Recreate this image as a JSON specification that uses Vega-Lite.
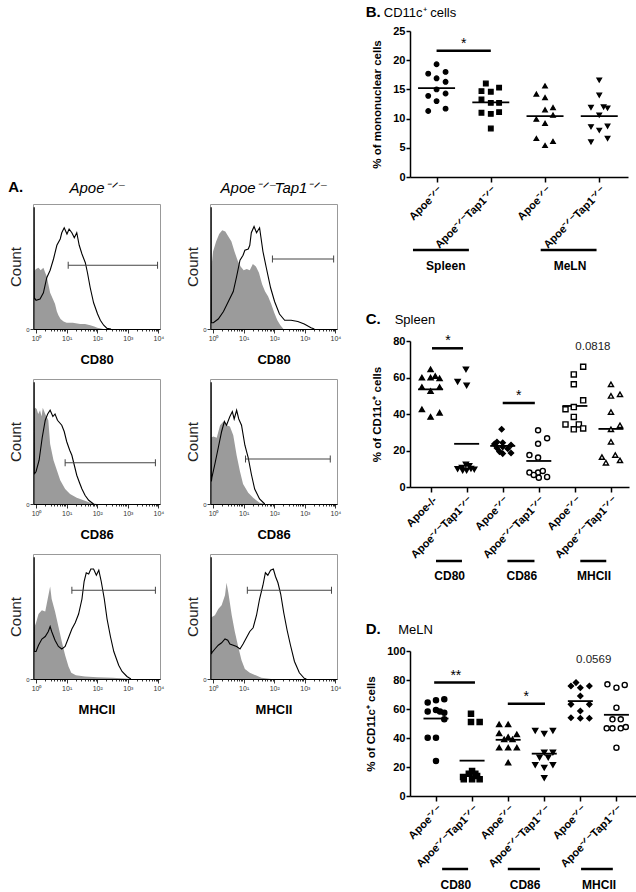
{
"$schema": "https://vega.github.io/schema/vega-lite/v6.json",
"padding": {"left": 8, "top": 5, "right": 0, "bottom": 0},
"config": {
  "font": "Liberation Sans",
  "view": {"stroke": null},
  "axis": {"labelFont": "Liberation Sans", "titleFont": "Liberation Sans", "domainColor": "black", "tickColor": "black", "labelColor": "black", "titleColor": "black", "grid": false, "labelOverlap": false},
  "title": {"font": "Liberation Sans", "color": "black", "subtitleFont": "Liberation Sans", "subtitleColor": "black"}
},
"datasets": {
  "hist": [
    {"h":"h1","s":"c","x":-0.08,"c":46},{"h":"h1","s":"c","x":0,"c":48},{"h":"h1","s":"c","x":0.08,"c":49},{"h":"h1","s":"c","x":0.15,"c":47},{"h":"h1","s":"c","x":0.24,"c":49},{"h":"h1","s":"c","x":0.3,"c":45},{"h":"h1","s":"c","x":0.35,"c":42},{"h":"h1","s":"c","x":0.4,"c":36},{"h":"h1","s":"c","x":0.46,"c":29},{"h":"h1","s":"c","x":0.55,"c":24},{"h":"h1","s":"c","x":0.62,"c":20},{"h":"h1","s":"c","x":0.68,"c":14},{"h":"h1","s":"c","x":0.73,"c":11},{"h":"h1","s":"c","x":0.8,"c":8},{"h":"h1","s":"c","x":0.9,"c":6},{"h":"h1","s":"c","x":1,"c":5},{"h":"h1","s":"c","x":1.2,"c":5},{"h":"h1","s":"c","x":1.44,"c":4},{"h":"h1","s":"c","x":1.6,"c":4},{"h":"h1","s":"c","x":1.77,"c":3},{"h":"h1","s":"c","x":1.9,"c":2},{"h":"h1","s":"c","x":2,"c":1},{"h":"h1","s":"c","x":2.2,"c":0},
    {"h":"h1","s":"s","x":-0.07,"c":0},{"h":"h1","s":"s","x":-0.065,"c":97},{"h":"h1","s":"s","x":-0.06,"c":97},{"h":"h1","s":"s","x":-0.055,"c":25},{"h":"h1","s":"s","x":0,"c":23},{"h":"h1","s":"s","x":0.13,"c":24},{"h":"h1","s":"s","x":0.24,"c":29},{"h":"h1","s":"s","x":0.35,"c":41},{"h":"h1","s":"s","x":0.46,"c":47},{"h":"h1","s":"s","x":0.57,"c":56},{"h":"h1","s":"s","x":0.68,"c":67},{"h":"h1","s":"s","x":0.79,"c":72},{"h":"h1","s":"s","x":0.84,"c":77},{"h":"h1","s":"s","x":0.92,"c":81},{"h":"h1","s":"s","x":1.01,"c":76},{"h":"h1","s":"s","x":1.08,"c":80},{"h":"h1","s":"s","x":1.17,"c":77},{"h":"h1","s":"s","x":1.25,"c":73},{"h":"h1","s":"s","x":1.33,"c":77},{"h":"h1","s":"s","x":1.41,"c":67},{"h":"h1","s":"s","x":1.5,"c":60},{"h":"h1","s":"s","x":1.61,"c":53},{"h":"h1","s":"s","x":1.68,"c":45},{"h":"h1","s":"s","x":1.77,"c":33},{"h":"h1","s":"s","x":1.88,"c":21},{"h":"h1","s":"s","x":2.01,"c":12},{"h":"h1","s":"s","x":2.1,"c":7},{"h":"h1","s":"s","x":2.21,"c":3},{"h":"h1","s":"s","x":2.32,"c":0.5},{"h":"h1","s":"s","x":2.45,"c":0},
    {"h":"h2","s":"c","x":-0.08,"c":5},{"h":"h2","s":"c","x":-0.05,"c":50},{"h":"h2","s":"c","x":0,"c":62},{"h":"h2","s":"c","x":0.1,"c":70},{"h":"h2","s":"c","x":0.2,"c":76},{"h":"h2","s":"c","x":0.3,"c":79},{"h":"h2","s":"c","x":0.4,"c":78},{"h":"h2","s":"c","x":0.5,"c":74},{"h":"h2","s":"c","x":0.6,"c":70},{"h":"h2","s":"c","x":0.7,"c":62},{"h":"h2","s":"c","x":0.8,"c":55},{"h":"h2","s":"c","x":0.9,"c":50},{"h":"h2","s":"c","x":1,"c":47},{"h":"h2","s":"c","x":1.1,"c":48},{"h":"h2","s":"c","x":1.2,"c":47},{"h":"h2","s":"c","x":1.3,"c":52},{"h":"h2","s":"c","x":1.4,"c":50},{"h":"h2","s":"c","x":1.5,"c":45},{"h":"h2","s":"c","x":1.6,"c":36},{"h":"h2","s":"c","x":1.7,"c":30},{"h":"h2","s":"c","x":1.8,"c":26},{"h":"h2","s":"c","x":1.9,"c":20},{"h":"h2","s":"c","x":2,"c":13},{"h":"h2","s":"c","x":2.1,"c":7},{"h":"h2","s":"c","x":2.2,"c":3},{"h":"h2","s":"c","x":2.3,"c":0},
    {"h":"h2","s":"s","x":-0.07,"c":0},{"h":"h2","s":"s","x":-0.065,"c":97},{"h":"h2","s":"s","x":-0.06,"c":97},{"h":"h2","s":"s","x":-0.055,"c":5},{"h":"h2","s":"s","x":0.01,"c":5},{"h":"h2","s":"s","x":0.17,"c":8},{"h":"h2","s":"s","x":0.34,"c":14},{"h":"h2","s":"s","x":0.5,"c":22},{"h":"h2","s":"s","x":0.66,"c":30},{"h":"h2","s":"s","x":0.77,"c":42},{"h":"h2","s":"s","x":0.88,"c":55},{"h":"h2","s":"s","x":0.98,"c":59},{"h":"h2","s":"s","x":1.04,"c":63},{"h":"h2","s":"s","x":1.15,"c":64},{"h":"h2","s":"s","x":1.2,"c":67},{"h":"h2","s":"s","x":1.25,"c":77},{"h":"h2","s":"s","x":1.34,"c":82},{"h":"h2","s":"s","x":1.42,"c":77},{"h":"h2","s":"s","x":1.52,"c":81},{"h":"h2","s":"s","x":1.63,"c":62},{"h":"h2","s":"s","x":1.74,"c":49},{"h":"h2","s":"s","x":1.88,"c":33},{"h":"h2","s":"s","x":2.01,"c":22},{"h":"h2","s":"s","x":2.17,"c":12},{"h":"h2","s":"s","x":2.34,"c":7},{"h":"h2","s":"s","x":2.55,"c":7},{"h":"h2","s":"s","x":2.77,"c":6},{"h":"h2","s":"s","x":2.98,"c":4},{"h":"h2","s":"s","x":3.2,"c":1},{"h":"h2","s":"s","x":3.31,"c":0},
    {"h":"h3","s":"c","x":-0.08,"c":75},{"h":"h3","s":"c","x":-0.03,"c":77},{"h":"h3","s":"c","x":0.02,"c":76},{"h":"h3","s":"c","x":0.07,"c":72},{"h":"h3","s":"c","x":0.13,"c":75},{"h":"h3","s":"c","x":0.18,"c":70},{"h":"h3","s":"c","x":0.22,"c":77},{"h":"h3","s":"c","x":0.3,"c":72},{"h":"h3","s":"c","x":0.4,"c":67},{"h":"h3","s":"c","x":0.46,"c":48},{"h":"h3","s":"c","x":0.57,"c":35},{"h":"h3","s":"c","x":0.68,"c":27},{"h":"h3","s":"c","x":0.79,"c":19},{"h":"h3","s":"c","x":0.95,"c":12},{"h":"h3","s":"c","x":1.11,"c":8},{"h":"h3","s":"c","x":1.33,"c":5},{"h":"h3","s":"c","x":1.55,"c":3},{"h":"h3","s":"c","x":1.77,"c":1},{"h":"h3","s":"c","x":1.99,"c":0},
    {"h":"h3","s":"s","x":-0.07,"c":0},{"h":"h3","s":"s","x":-0.065,"c":97},{"h":"h3","s":"s","x":-0.06,"c":97},{"h":"h3","s":"s","x":-0.055,"c":24},{"h":"h3","s":"s","x":0,"c":26},{"h":"h3","s":"s","x":0.1,"c":35},{"h":"h3","s":"s","x":0.2,"c":53},{"h":"h3","s":"s","x":0.3,"c":67},{"h":"h3","s":"s","x":0.38,"c":72},{"h":"h3","s":"s","x":0.46,"c":75},{"h":"h3","s":"s","x":0.55,"c":70},{"h":"h3","s":"s","x":0.62,"c":72},{"h":"h3","s":"s","x":0.7,"c":67},{"h":"h3","s":"s","x":0.84,"c":63},{"h":"h3","s":"s","x":0.92,"c":58},{"h":"h3","s":"s","x":1,"c":50},{"h":"h3","s":"s","x":1.1,"c":43},{"h":"h3","s":"s","x":1.17,"c":39},{"h":"h3","s":"s","x":1.25,"c":31},{"h":"h3","s":"s","x":1.33,"c":23},{"h":"h3","s":"s","x":1.42,"c":17},{"h":"h3","s":"s","x":1.5,"c":12},{"h":"h3","s":"s","x":1.6,"c":7},{"h":"h3","s":"s","x":1.72,"c":3},{"h":"h3","s":"s","x":1.88,"c":0},
    {"h":"h4","s":"c","x":-0.08,"c":53},{"h":"h4","s":"c","x":0.01,"c":54},{"h":"h4","s":"c","x":0.12,"c":53},{"h":"h4","s":"c","x":0.23,"c":63},{"h":"h4","s":"c","x":0.34,"c":66},{"h":"h4","s":"c","x":0.44,"c":63},{"h":"h4","s":"c","x":0.55,"c":62},{"h":"h4","s":"c","x":0.66,"c":55},{"h":"h4","s":"c","x":0.77,"c":39},{"h":"h4","s":"c","x":0.88,"c":26},{"h":"h4","s":"c","x":0.98,"c":16},{"h":"h4","s":"c","x":1.15,"c":9},{"h":"h4","s":"c","x":1.31,"c":5},{"h":"h4","s":"c","x":1.52,"c":1},{"h":"h4","s":"c","x":1.7,"c":0},
    {"h":"h4","s":"s","x":-0.07,"c":0},{"h":"h4","s":"s","x":-0.065,"c":97},{"h":"h4","s":"s","x":-0.06,"c":97},{"h":"h4","s":"s","x":-0.055,"c":18},{"h":"h4","s":"s","x":-0.04,"c":21},{"h":"h4","s":"s","x":0.06,"c":32},{"h":"h4","s":"s","x":0.17,"c":45},{"h":"h4","s":"s","x":0.28,"c":58},{"h":"h4","s":"s","x":0.37,"c":66},{"h":"h4","s":"s","x":0.44,"c":63},{"h":"h4","s":"s","x":0.55,"c":70},{"h":"h4","s":"s","x":0.63,"c":74},{"h":"h4","s":"s","x":0.69,"c":68},{"h":"h4","s":"s","x":0.77,"c":75},{"h":"h4","s":"s","x":0.84,"c":68},{"h":"h4","s":"s","x":0.93,"c":63},{"h":"h4","s":"s","x":1.04,"c":47},{"h":"h4","s":"s","x":1.15,"c":37},{"h":"h4","s":"s","x":1.25,"c":24},{"h":"h4","s":"s","x":1.36,"c":12},{"h":"h4","s":"s","x":1.52,"c":4},{"h":"h4","s":"s","x":1.69,"c":0},
    {"h":"h5","s":"c","x":-0.08,"c":40},{"h":"h5","s":"c","x":0,"c":45},{"h":"h5","s":"c","x":0.08,"c":52},{"h":"h5","s":"c","x":0.19,"c":55},{"h":"h5","s":"c","x":0.3,"c":54},{"h":"h5","s":"c","x":0.38,"c":64},{"h":"h5","s":"c","x":0.46,"c":74},{"h":"h5","s":"c","x":0.51,"c":64},{"h":"h5","s":"c","x":0.62,"c":54},{"h":"h5","s":"c","x":0.73,"c":42},{"h":"h5","s":"c","x":0.84,"c":30},{"h":"h5","s":"c","x":0.95,"c":19},{"h":"h5","s":"c","x":1.06,"c":10},{"h":"h5","s":"c","x":1.15,"c":5},{"h":"h5","s":"c","x":1.3,"c":3},{"h":"h5","s":"c","x":1.6,"c":2},{"h":"h5","s":"c","x":2,"c":1.5},{"h":"h5","s":"c","x":2.5,"c":1},{"h":"h5","s":"c","x":2.9,"c":0.5},{"h":"h5","s":"c","x":3.1,"c":0},
    {"h":"h5","s":"s","x":-0.07,"c":0},{"h":"h5","s":"s","x":-0.065,"c":97},{"h":"h5","s":"s","x":-0.06,"c":97},{"h":"h5","s":"s","x":-0.055,"c":22},{"h":"h5","s":"s","x":0,"c":22},{"h":"h5","s":"s","x":0.08,"c":27},{"h":"h5","s":"s","x":0.19,"c":32},{"h":"h5","s":"s","x":0.3,"c":34},{"h":"h5","s":"s","x":0.4,"c":38},{"h":"h5","s":"s","x":0.46,"c":42},{"h":"h5","s":"s","x":0.51,"c":38},{"h":"h5","s":"s","x":0.62,"c":31},{"h":"h5","s":"s","x":0.73,"c":26},{"h":"h5","s":"s","x":0.84,"c":24},{"h":"h5","s":"s","x":0.95,"c":26},{"h":"h5","s":"s","x":1.06,"c":33},{"h":"h5","s":"s","x":1.17,"c":40},{"h":"h5","s":"s","x":1.28,"c":45},{"h":"h5","s":"s","x":1.39,"c":52},{"h":"h5","s":"s","x":1.5,"c":64},{"h":"h5","s":"s","x":1.57,"c":78},{"h":"h5","s":"s","x":1.64,"c":85},{"h":"h5","s":"s","x":1.72,"c":84},{"h":"h5","s":"s","x":1.79,"c":88},{"h":"h5","s":"s","x":1.88,"c":88},{"h":"h5","s":"s","x":1.97,"c":83},{"h":"h5","s":"s","x":2.05,"c":87},{"h":"h5","s":"s","x":2.13,"c":78},{"h":"h5","s":"s","x":2.23,"c":64},{"h":"h5","s":"s","x":2.32,"c":48},{"h":"h5","s":"s","x":2.43,"c":34},{"h":"h5","s":"s","x":2.54,"c":22},{"h":"h5","s":"s","x":2.7,"c":11},{"h":"h5","s":"s","x":2.81,"c":6},{"h":"h5","s":"s","x":2.97,"c":2},{"h":"h5","s":"s","x":3.1,"c":0},
    {"h":"h6","s":"c","x":-0.08,"c":49},{"h":"h6","s":"c","x":0.06,"c":51},{"h":"h6","s":"c","x":0.17,"c":56},{"h":"h6","s":"c","x":0.28,"c":59},{"h":"h6","s":"c","x":0.39,"c":67},{"h":"h6","s":"c","x":0.44,"c":77},{"h":"h6","s":"c","x":0.5,"c":69},{"h":"h6","s":"c","x":0.61,"c":51},{"h":"h6","s":"c","x":0.71,"c":38},{"h":"h6","s":"c","x":0.82,"c":26},{"h":"h6","s":"c","x":0.93,"c":15},{"h":"h6","s":"c","x":1.04,"c":8},{"h":"h6","s":"c","x":1.2,"c":5},{"h":"h6","s":"c","x":1.58,"c":1},{"h":"h6","s":"c","x":1.9,"c":0},
    {"h":"h6","s":"s","x":-0.07,"c":0},{"h":"h6","s":"s","x":-0.065,"c":97},{"h":"h6","s":"s","x":-0.06,"c":97},{"h":"h6","s":"s","x":-0.055,"c":20},{"h":"h6","s":"s","x":-0.04,"c":21},{"h":"h6","s":"s","x":0.06,"c":24},{"h":"h6","s":"s","x":0.17,"c":27},{"h":"h6","s":"s","x":0.28,"c":29},{"h":"h6","s":"s","x":0.39,"c":32},{"h":"h6","s":"s","x":0.48,"c":31},{"h":"h6","s":"s","x":0.55,"c":28},{"h":"h6","s":"s","x":0.66,"c":27},{"h":"h6","s":"s","x":0.77,"c":26},{"h":"h6","s":"s","x":0.88,"c":24},{"h":"h6","s":"s","x":0.98,"c":28},{"h":"h6","s":"s","x":1.09,"c":33},{"h":"h6","s":"s","x":1.2,"c":38},{"h":"h6","s":"s","x":1.31,"c":41},{"h":"h6","s":"s","x":1.42,"c":51},{"h":"h6","s":"s","x":1.52,"c":64},{"h":"h6","s":"s","x":1.63,"c":75},{"h":"h6","s":"s","x":1.71,"c":85},{"h":"h6","s":"s","x":1.79,"c":83},{"h":"h6","s":"s","x":1.88,"c":87},{"h":"h6","s":"s","x":1.97,"c":88},{"h":"h6","s":"s","x":2.04,"c":82},{"h":"h6","s":"s","x":2.12,"c":77},{"h":"h6","s":"s","x":2.21,"c":68},{"h":"h6","s":"s","x":2.31,"c":53},{"h":"h6","s":"s","x":2.42,"c":39},{"h":"h6","s":"s","x":2.53,"c":27},{"h":"h6","s":"s","x":2.66,"c":14},{"h":"h6","s":"s","x":2.82,"c":5},{"h":"h6","s":"s","x":2.98,"c":0.5},{"h":"h6","s":"s","x":3.05,"c":0}
  ],
  "gates": [
    {"h":"h1","x1":1.05,"x2":3.97,"c":51},{"h":"h2","x1":1.94,"x2":3.94,"c":56},{"h":"h3","x1":0.95,"x2":3.9,"c":33},{"h":"h4","x1":1.06,"x2":3.83,"c":36},{"h":"h5","x1":1.17,"x2":3.9,"c":71},{"h":"h6","x1":1.12,"x2":3.87,"c":71}
  ],
  "B": [
    {"g":1,"pos":1.0,"y":19.3},{"g":1,"pos":1.166,"y":18.0},{"g":1,"pos":0.846,"y":17.7},{"g":1,"pos":1.0,"y":16.9},{"g":1,"pos":1.166,"y":16.3},{"g":1,"pos":1.0,"y":15.0},{"g":1,"pos":1.166,"y":14.3},{"g":1,"pos":0.846,"y":13.9},{"g":1,"pos":1.0,"y":13.0},{"g":1,"pos":1.166,"y":11.7},{"g":1,"pos":0.846,"y":11.3},
    {"g":2,"pos":1.908,"y":16.0},{"g":2,"pos":1.828,"y":14.7},{"g":2,"pos":2.0,"y":14.6},{"g":2,"pos":2.153,"y":15.3},{"g":2,"pos":1.828,"y":13.3},{"g":2,"pos":2.0,"y":12.7},{"g":2,"pos":2.153,"y":12.7},{"g":2,"pos":1.828,"y":11.0},{"g":2,"pos":2.0,"y":10.8},{"g":2,"pos":2.153,"y":11.1},{"g":2,"pos":2.0,"y":8.3},
    {"g":3,"pos":3.0,"y":15.6},{"g":3,"pos":2.84,"y":14.2},{"g":3,"pos":3.0,"y":13.6},{"g":3,"pos":3.0,"y":11.5},{"g":3,"pos":3.147,"y":11.9},{"g":3,"pos":2.84,"y":9.9},{"g":3,"pos":3.0,"y":9.2},{"g":3,"pos":3.147,"y":10.6},{"g":3,"pos":2.84,"y":6.6},{"g":3,"pos":3.147,"y":6.1},{"g":3,"pos":3.0,"y":5.4},
    {"g":4,"pos":4.0,"y":16.6},{"g":4,"pos":4.0,"y":14.0},{"g":4,"pos":3.847,"y":11.9},{"g":4,"pos":4.08,"y":12.0},{"g":4,"pos":4.153,"y":11.8},{"g":4,"pos":4.0,"y":10.6},{"g":4,"pos":3.847,"y":8.6},{"g":4,"pos":4.0,"y":8.0},{"g":4,"pos":4.153,"y":8.7},{"g":4,"pos":3.847,"y":6.0},{"g":4,"pos":4.153,"y":6.6}
  ],
  "C": [
    {"g":1,"pos":1.0,"y":64.5},{"g":1,"pos":0.76,"y":59.9},{"g":1,"pos":1.0,"y":59.9},{"g":1,"pos":1.13,"y":60.8},{"g":1,"pos":1.25,"y":59.5},{"g":1,"pos":0.76,"y":54.8},{"g":1,"pos":1.0,"y":52.6},{"g":1,"pos":1.25,"y":54.8},{"g":1,"pos":0.76,"y":42.6},{"g":1,"pos":1.25,"y":40.7},{"g":1,"pos":1.0,"y":38.4},
    {"g":2,"pos":1.98,"y":64.5},{"g":2,"pos":1.75,"y":57.7},{"g":2,"pos":2.0,"y":55.7},{"g":2,"pos":1.75,"y":9.9},{"g":2,"pos":1.87,"y":10.6},{"g":2,"pos":1.98,"y":12.4},{"g":2,"pos":2.07,"y":11.5},{"g":2,"pos":2.21,"y":9.7},{"g":2,"pos":2.12,"y":10.0},{"g":2,"pos":1.89,"y":9.1},{"g":2,"pos":2.0,"y":9.1},
    {"g":3,"pos":2.97,"y":31.6},{"g":3,"pos":2.84,"y":24.6},{"g":3,"pos":3.0,"y":24.2},{"g":3,"pos":2.77,"y":23.6},{"g":3,"pos":3.23,"y":23.0},{"g":3,"pos":3.0,"y":22.0},{"g":3,"pos":2.84,"y":21.4},{"g":3,"pos":3.14,"y":21.0},{"g":3,"pos":2.91,"y":19.4},{"g":3,"pos":3.0,"y":18.3},{"g":3,"pos":3.23,"y":18.6},
    {"g":4,"pos":3.98,"y":31.1},{"g":4,"pos":4.23,"y":26.7},{"g":4,"pos":3.98,"y":23.7},{"g":4,"pos":3.74,"y":17.5},{"g":4,"pos":3.98,"y":16.1},{"g":4,"pos":3.74,"y":7.9},{"g":4,"pos":3.98,"y":7.9},{"g":4,"pos":4.11,"y":8.8},{"g":4,"pos":3.86,"y":6.6},{"g":4,"pos":4.0,"y":5.1},{"g":4,"pos":4.23,"y":5.5},
    {"g":5,"pos":5.23,"y":65.9},{"g":5,"pos":4.97,"y":61.7},{"g":5,"pos":4.97,"y":56.3},{"g":5,"pos":5.23,"y":47.5},{"g":5,"pos":4.97,"y":43.8},{"g":5,"pos":4.74,"y":42.6},{"g":5,"pos":4.97,"y":38.4},{"g":5,"pos":4.74,"y":34.3},{"g":5,"pos":5.11,"y":34.3},{"g":5,"pos":4.97,"y":31.6},{"g":5,"pos":5.23,"y":32.1},
    {"g":6,"pos":6.0,"y":56.3},{"g":6,"pos":6.0,"y":49.9},{"g":6,"pos":6.25,"y":50.8},{"g":6,"pos":6.0,"y":41.1},{"g":6,"pos":6.0,"y":31.6},{"g":6,"pos":6.25,"y":33.8},{"g":6,"pos":6.0,"y":24.8},{"g":6,"pos":5.75,"y":16.4},{"g":6,"pos":6.12,"y":17.5},{"g":6,"pos":5.86,"y":13.3},{"g":6,"pos":6.25,"y":14.6}
  ],
  "D": [
    {"g":1,"pos":0.77,"y":64.4},{"g":1,"pos":1.0,"y":66.0},{"g":1,"pos":1.23,"y":66.7},{"g":1,"pos":0.77,"y":58.2},{"g":1,"pos":1.0,"y":59.3},{"g":1,"pos":1.11,"y":58.2},{"g":1,"pos":1.23,"y":57.5},{"g":1,"pos":1.23,"y":52.9},{"g":1,"pos":0.77,"y":40.2},{"g":1,"pos":1.0,"y":40.2},{"g":1,"pos":1.0,"y":24.1},
    {"g":2,"pos":1.97,"y":56.8},{"g":2,"pos":1.97,"y":51.0},{"g":2,"pos":2.21,"y":51.0},{"g":2,"pos":2.0,"y":17.2},{"g":2,"pos":1.91,"y":15.4},{"g":2,"pos":2.09,"y":15.4},{"g":2,"pos":1.75,"y":13.1},{"g":2,"pos":2.14,"y":13.8},{"g":2,"pos":1.77,"y":11.5},{"g":2,"pos":2.0,"y":11.5},{"g":2,"pos":2.21,"y":11.5},
    {"g":3,"pos":2.75,"y":49.4},{"g":3,"pos":3.0,"y":49.4},{"g":3,"pos":2.75,"y":43.2},{"g":3,"pos":3.0,"y":40.7},{"g":3,"pos":3.24,"y":42.5},{"g":3,"pos":2.89,"y":39.1},{"g":3,"pos":3.12,"y":39.1},{"g":3,"pos":2.75,"y":33.3},{"g":3,"pos":3.0,"y":33.3},{"g":3,"pos":3.24,"y":33.3},{"g":3,"pos":3.0,"y":23.0},
    {"g":4,"pos":3.75,"y":45.0},{"g":4,"pos":4.0,"y":43.0},{"g":4,"pos":4.24,"y":45.0},{"g":4,"pos":4.0,"y":30.0},{"g":4,"pos":4.24,"y":30.0},{"g":4,"pos":3.87,"y":26.6},{"g":4,"pos":4.11,"y":26.6},{"g":4,"pos":3.75,"y":21.5},{"g":4,"pos":4.0,"y":19.5},{"g":4,"pos":4.24,"y":21.5},{"g":4,"pos":4.0,"y":12.5},
    {"g":5,"pos":4.88,"y":78.2},{"g":5,"pos":4.74,"y":75.9},{"g":5,"pos":5.0,"y":74.7},{"g":5,"pos":5.25,"y":75.9},{"g":5,"pos":5.0,"y":69.0},{"g":5,"pos":4.74,"y":63.2},{"g":5,"pos":5.25,"y":63.2},{"g":5,"pos":5.0,"y":58.6},{"g":5,"pos":4.74,"y":54.0},{"g":5,"pos":5.0,"y":53.6},{"g":5,"pos":5.25,"y":53.6},
    {"g":6,"pos":5.75,"y":77.0},{"g":6,"pos":6.0,"y":74.7},{"g":6,"pos":6.23,"y":76.6},{"g":6,"pos":6.0,"y":60.9},{"g":6,"pos":5.89,"y":52.9},{"g":6,"pos":6.12,"y":52.9},{"g":6,"pos":5.73,"y":46.7},{"g":6,"pos":5.89,"y":46.7},{"g":6,"pos":6.12,"y":46.7},{"g":6,"pos":6.26,"y":47.6},{"g":6,"pos":6.0,"y":33.3}
  ],
  "sigB": [{"x1":1,"x2":2,"y":21.6}],
  "txtB": [{"xm":1.5,"y":23.3,"t":"*"}],
  "grpB": [{"x1":0.565,"x2":1.596,"xm":1.17,"t":"Spleen"},{"x1":2.92,"x2":3.95,"xm":3.46,"t":"MeLN"}],
  "sigC": [{"x1":1.04,"x2":1.9,"y":76.0},{"x1":3.0,"x2":3.89,"y":46.0}],
  "txtC": [{"xm":1.48,"y":81.5,"t":"*"},{"xm":3.44,"y":51.3,"t":"*"}],
  "pC": [{"xm":5.5,"y":76.9,"t":"0.0818"}],
  "grpC": [{"x1":1.15,"x2":1.87,"xm":1.53,"t":"CD80"},{"x1":3.13,"x2":3.88,"xm":3.53,"t":"CD86"},{"x1":5.15,"x2":5.87,"xm":5.53,"t":"MHCII"}],
  "sigD": [{"x1":0.95,"x2":2.08,"y":78.2},{"x1":2.99,"x2":4.02,"y":63.7}],
  "txtD": [{"xm":1.55,"y":84.6,"t":"**"},{"xm":3.5,"y":70.1,"t":"*"}],
  "pD": [{"xm":5.37,"y":93.8,"t":"0.0569"}],
  "grpD": [{"x1":1.17,"x2":1.89,"xm":1.55,"t":"CD80"},{"x1":2.99,"x2":3.88,"xm":3.47,"t":"CD86"},{"x1":5.02,"x2":5.9,"xm":5.52,"t":"MHCII"}]
},
"spacing": 23,
"hconcat": [
  {
    "spacing": 0,
    "vconcat": [
      {"width": 20, "height": 148, "data": {"values": [{"t": ""}]}, "mark": {"type": "text"}, "encoding": {"text": {"field": "t"}}},
      {
        "title": {"text": "A.", "anchor": "start", "fontSize": 15, "fontWeight": "bold", "offset": -14},
        "columns": 2,
        "bounds": "flush",
        "spacing": {"row": 50, "column": 50},
        "concat": [
          {"width": 127, "height": 125, "view": {"stroke": "#999"},
           "title": {"text": "Apoe⁻ᐟ⁻", "fontStyle": "italic", "fontWeight": "normal", "fontSize": 15, "frame": "group", "anchor": "middle", "offset": 8},
           "resolve": {"axis": {"x": "independent"}},
           "layer": [
            {"data": {"name": "hist"}, "transform": [{"filter": "datum.h == 'h1' && datum.s == 'c'"}], "mark": {"type": "area", "color": "#9b9b9b"},
             "encoding": {"x": {"field": "x", "type": "quantitative", "scale": {"domain": [-0.1, 4.05], "nice": false, "zero": false},
               "axis": {"orient": "bottom", "title": "CD80", "values": [0,1,2,3,4], "tickCount": 10, "labelExpr": "'10' + ['⁰','¹','²','³','⁴'][round(datum.value)]", "labelFontSize": 7, "labelColor": "#333", "labelPadding": 1, "labelFlush": false, "tickSize": 4, "tickWidth": 0.8, "domainWidth": 1.2, "titleFontSize": 13, "titleFontWeight": "bold", "titlePadding": 12}},
              "y": {"field": "c", "type": "quantitative", "scale": {"domain": [0, 100], "nice": false},
               "axis": {"title": "Count", "values": [0], "labelFontSize": 6, "labelColor": "#333", "labelPadding": 1, "tickSize": 3, "tickWidth": 0.8, "domain": false, "titleFontSize": 15, "titleFontWeight": "normal", "titleColor": "#222", "titlePadding": 2}}}},
            {"data": {"name": "hist"}, "transform": [{"filter": "datum.h == 'h1' && datum.s == 's'"}], "mark": {"type": "line", "color": "black", "strokeWidth": 1.1},
             "encoding": {"x": {"field": "x", "type": "quantitative", "scale": {"domain": [-0.1, 4.05], "nice": false, "zero": false},
               "axis": {"orient": "bottom", "title": null, "values": [0.301,0.477,0.602,0.699,0.778,0.845,0.903,0.954,1.301,1.477,1.602,1.699,1.778,1.845,1.903,1.954,2.301,2.477,2.602,2.699,2.778,2.845,2.903,2.954,3.301,3.477,3.602,3.699,3.778,3.845,3.903,3.954], "tickCount": 40, "labels": false, "domain": false, "tickSize": 2, "tickWidth": 0.8}},
              "y": {"field": "c", "type": "quantitative", "scale": {"domain": [0, 100], "nice": false}}}},
            {"data": {"name": "gates"}, "transform": [{"filter": "datum.h == 'h1'"}], "mark": {"type": "rule", "color": "#444", "strokeWidth": 1},
             "encoding": {"x": {"field": "x1", "type": "quantitative", "scale": {"domain": [-0.1, 4.05], "nice": false, "zero": false}, "axis": null}, "x2": {"field": "x2"}, "y": {"field": "c", "type": "quantitative", "scale": {"domain": [0, 100], "nice": false}}}},
            {"data": {"name": "gates"}, "transform": [{"filter": "datum.h == 'h1'"}], "mark": {"type": "tick", "orient": "vertical", "size": 7, "thickness": 1, "color": "#444", "opacity": 1},
             "encoding": {"x": {"field": "x1", "type": "quantitative", "scale": {"domain": [-0.1, 4.05], "nice": false, "zero": false}, "axis": null}, "y": {"field": "c", "type": "quantitative", "scale": {"domain": [0, 100], "nice": false}}}},
            {"data": {"name": "gates"}, "transform": [{"filter": "datum.h == 'h1'"}], "mark": {"type": "tick", "orient": "vertical", "size": 7, "thickness": 1, "color": "#444", "opacity": 1},
             "encoding": {"x": {"field": "x2", "type": "quantitative", "scale": {"domain": [-0.1, 4.05], "nice": false, "zero": false}, "axis": null}, "y": {"field": "c", "type": "quantitative", "scale": {"domain": [0, 100], "nice": false}}}}
           ]},
          {"width": 127, "height": 125, "view": {"stroke": "#999"},
           "title": {"text": "Apoe⁻ᐟ⁻Tap1⁻ᐟ⁻", "fontStyle": "italic", "fontWeight": "normal", "fontSize": 15, "frame": "group", "anchor": "middle", "offset": 8},
           "resolve": {"axis": {"x": "independent"}},
           "layer": [
            {"data": {"name": "hist"}, "transform": [{"filter": "datum.h == 'h2' && datum.s == 'c'"}], "mark": {"type": "area", "color": "#9b9b9b"},
             "encoding": {"x": {"field": "x", "type": "quantitative", "scale": {"domain": [-0.1, 4.05], "nice": false, "zero": false},
               "axis": {"orient": "bottom", "title": "CD80", "values": [0,1,2,3,4], "tickCount": 10, "labelExpr": "'10' + ['⁰','¹','²','³','⁴'][round(datum.value)]", "labelFontSize": 7, "labelColor": "#333", "labelPadding": 1, "labelFlush": false, "tickSize": 4, "tickWidth": 0.8, "domainWidth": 1.2, "titleFontSize": 13, "titleFontWeight": "bold", "titlePadding": 12}},
              "y": {"field": "c", "type": "quantitative", "scale": {"domain": [0, 100], "nice": false},
               "axis": {"title": "Count", "values": [0], "labelFontSize": 6, "labelColor": "#333", "labelPadding": 1, "tickSize": 3, "tickWidth": 0.8, "domain": false, "titleFontSize": 15, "titleFontWeight": "normal", "titleColor": "#222", "titlePadding": 2}}}},
            {"data": {"name": "hist"}, "transform": [{"filter": "datum.h == 'h2' && datum.s == 's'"}], "mark": {"type": "line", "color": "black", "strokeWidth": 1.1},
             "encoding": {"x": {"field": "x", "type": "quantitative", "scale": {"domain": [-0.1, 4.05], "nice": false, "zero": false},
               "axis": {"orient": "bottom", "title": null, "values": [0.301,0.477,0.602,0.699,0.778,0.845,0.903,0.954,1.301,1.477,1.602,1.699,1.778,1.845,1.903,1.954,2.301,2.477,2.602,2.699,2.778,2.845,2.903,2.954,3.301,3.477,3.602,3.699,3.778,3.845,3.903,3.954], "tickCount": 40, "labels": false, "domain": false, "tickSize": 2, "tickWidth": 0.8}},
              "y": {"field": "c", "type": "quantitative", "scale": {"domain": [0, 100], "nice": false}}}},
            {"data": {"name": "gates"}, "transform": [{"filter": "datum.h == 'h2'"}], "mark": {"type": "rule", "color": "#444", "strokeWidth": 1},
             "encoding": {"x": {"field": "x1", "type": "quantitative", "scale": {"domain": [-0.1, 4.05], "nice": false, "zero": false}, "axis": null}, "x2": {"field": "x2"}, "y": {"field": "c", "type": "quantitative", "scale": {"domain": [0, 100], "nice": false}}}},
            {"data": {"name": "gates"}, "transform": [{"filter": "datum.h == 'h2'"}], "mark": {"type": "tick", "orient": "vertical", "size": 7, "thickness": 1, "color": "#444", "opacity": 1},
             "encoding": {"x": {"field": "x1", "type": "quantitative", "scale": {"domain": [-0.1, 4.05], "nice": false, "zero": false}, "axis": null}, "y": {"field": "c", "type": "quantitative", "scale": {"domain": [0, 100], "nice": false}}}},
            {"data": {"name": "gates"}, "transform": [{"filter": "datum.h == 'h2'"}], "mark": {"type": "tick", "orient": "vertical", "size": 7, "thickness": 1, "color": "#444", "opacity": 1},
             "encoding": {"x": {"field": "x2", "type": "quantitative", "scale": {"domain": [-0.1, 4.05], "nice": false, "zero": false}, "axis": null}, "y": {"field": "c", "type": "quantitative", "scale": {"domain": [0, 100], "nice": false}}}}
           ]},
          {"width": 127, "height": 125, "view": {"stroke": "#999"},
           "resolve": {"axis": {"x": "independent"}},
           "layer": [
            {"data": {"name": "hist"}, "transform": [{"filter": "datum.h == 'h3' && datum.s == 'c'"}], "mark": {"type": "area", "color": "#9b9b9b"},
             "encoding": {"x": {"field": "x", "type": "quantitative", "scale": {"domain": [-0.1, 4.05], "nice": false, "zero": false},
               "axis": {"orient": "bottom", "title": "CD86", "values": [0,1,2,3,4], "tickCount": 10, "labelExpr": "'10' + ['⁰','¹','²','³','⁴'][round(datum.value)]", "labelFontSize": 7, "labelColor": "#333", "labelPadding": 1, "labelFlush": false, "tickSize": 4, "tickWidth": 0.8, "domainWidth": 1.2, "titleFontSize": 13, "titleFontWeight": "bold", "titlePadding": 12}},
              "y": {"field": "c", "type": "quantitative", "scale": {"domain": [0, 100], "nice": false},
               "axis": {"title": "Count", "values": [0], "labelFontSize": 6, "labelColor": "#333", "labelPadding": 1, "tickSize": 3, "tickWidth": 0.8, "domain": false, "titleFontSize": 15, "titleFontWeight": "normal", "titleColor": "#222", "titlePadding": 2}}}},
            {"data": {"name": "hist"}, "transform": [{"filter": "datum.h == 'h3' && datum.s == 's'"}], "mark": {"type": "line", "color": "black", "strokeWidth": 1.1},
             "encoding": {"x": {"field": "x", "type": "quantitative", "scale": {"domain": [-0.1, 4.05], "nice": false, "zero": false},
               "axis": {"orient": "bottom", "title": null, "values": [0.301,0.477,0.602,0.699,0.778,0.845,0.903,0.954,1.301,1.477,1.602,1.699,1.778,1.845,1.903,1.954,2.301,2.477,2.602,2.699,2.778,2.845,2.903,2.954,3.301,3.477,3.602,3.699,3.778,3.845,3.903,3.954], "tickCount": 40, "labels": false, "domain": false, "tickSize": 2, "tickWidth": 0.8}},
              "y": {"field": "c", "type": "quantitative", "scale": {"domain": [0, 100], "nice": false}}}},
            {"data": {"name": "gates"}, "transform": [{"filter": "datum.h == 'h3'"}], "mark": {"type": "rule", "color": "#444", "strokeWidth": 1},
             "encoding": {"x": {"field": "x1", "type": "quantitative", "scale": {"domain": [-0.1, 4.05], "nice": false, "zero": false}, "axis": null}, "x2": {"field": "x2"}, "y": {"field": "c", "type": "quantitative", "scale": {"domain": [0, 100], "nice": false}}}},
            {"data": {"name": "gates"}, "transform": [{"filter": "datum.h == 'h3'"}], "mark": {"type": "tick", "orient": "vertical", "size": 7, "thickness": 1, "color": "#444", "opacity": 1},
             "encoding": {"x": {"field": "x1", "type": "quantitative", "scale": {"domain": [-0.1, 4.05], "nice": false, "zero": false}, "axis": null}, "y": {"field": "c", "type": "quantitative", "scale": {"domain": [0, 100], "nice": false}}}},
            {"data": {"name": "gates"}, "transform": [{"filter": "datum.h == 'h3'"}], "mark": {"type": "tick", "orient": "vertical", "size": 7, "thickness": 1, "color": "#444", "opacity": 1},
             "encoding": {"x": {"field": "x2", "type": "quantitative", "scale": {"domain": [-0.1, 4.05], "nice": false, "zero": false}, "axis": null}, "y": {"field": "c", "type": "quantitative", "scale": {"domain": [0, 100], "nice": false}}}}
           ]},
          {"width": 127, "height": 125, "view": {"stroke": "#999"},
           "resolve": {"axis": {"x": "independent"}},
           "layer": [
            {"data": {"name": "hist"}, "transform": [{"filter": "datum.h == 'h4' && datum.s == 'c'"}], "mark": {"type": "area", "color": "#9b9b9b"},
             "encoding": {"x": {"field": "x", "type": "quantitative", "scale": {"domain": [-0.1, 4.05], "nice": false, "zero": false},
               "axis": {"orient": "bottom", "title": "CD86", "values": [0,1,2,3,4], "tickCount": 10, "labelExpr": "'10' + ['⁰','¹','²','³','⁴'][round(datum.value)]", "labelFontSize": 7, "labelColor": "#333", "labelPadding": 1, "labelFlush": false, "tickSize": 4, "tickWidth": 0.8, "domainWidth": 1.2, "titleFontSize": 13, "titleFontWeight": "bold", "titlePadding": 12}},
              "y": {"field": "c", "type": "quantitative", "scale": {"domain": [0, 100], "nice": false},
               "axis": {"title": "Count", "values": [0], "labelFontSize": 6, "labelColor": "#333", "labelPadding": 1, "tickSize": 3, "tickWidth": 0.8, "domain": false, "titleFontSize": 15, "titleFontWeight": "normal", "titleColor": "#222", "titlePadding": 2}}}},
            {"data": {"name": "hist"}, "transform": [{"filter": "datum.h == 'h4' && datum.s == 's'"}], "mark": {"type": "line", "color": "black", "strokeWidth": 1.1},
             "encoding": {"x": {"field": "x", "type": "quantitative", "scale": {"domain": [-0.1, 4.05], "nice": false, "zero": false},
               "axis": {"orient": "bottom", "title": null, "values": [0.301,0.477,0.602,0.699,0.778,0.845,0.903,0.954,1.301,1.477,1.602,1.699,1.778,1.845,1.903,1.954,2.301,2.477,2.602,2.699,2.778,2.845,2.903,2.954,3.301,3.477,3.602,3.699,3.778,3.845,3.903,3.954], "tickCount": 40, "labels": false, "domain": false, "tickSize": 2, "tickWidth": 0.8}},
              "y": {"field": "c", "type": "quantitative", "scale": {"domain": [0, 100], "nice": false}}}},
            {"data": {"name": "gates"}, "transform": [{"filter": "datum.h == 'h4'"}], "mark": {"type": "rule", "color": "#444", "strokeWidth": 1},
             "encoding": {"x": {"field": "x1", "type": "quantitative", "scale": {"domain": [-0.1, 4.05], "nice": false, "zero": false}, "axis": null}, "x2": {"field": "x2"}, "y": {"field": "c", "type": "quantitative", "scale": {"domain": [0, 100], "nice": false}}}},
            {"data": {"name": "gates"}, "transform": [{"filter": "datum.h == 'h4'"}], "mark": {"type": "tick", "orient": "vertical", "size": 7, "thickness": 1, "color": "#444", "opacity": 1},
             "encoding": {"x": {"field": "x1", "type": "quantitative", "scale": {"domain": [-0.1, 4.05], "nice": false, "zero": false}, "axis": null}, "y": {"field": "c", "type": "quantitative", "scale": {"domain": [0, 100], "nice": false}}}},
            {"data": {"name": "gates"}, "transform": [{"filter": "datum.h == 'h4'"}], "mark": {"type": "tick", "orient": "vertical", "size": 7, "thickness": 1, "color": "#444", "opacity": 1},
             "encoding": {"x": {"field": "x2", "type": "quantitative", "scale": {"domain": [-0.1, 4.05], "nice": false, "zero": false}, "axis": null}, "y": {"field": "c", "type": "quantitative", "scale": {"domain": [0, 100], "nice": false}}}}
           ]},
          {"width": 127, "height": 125, "view": {"stroke": "#999"},
           "resolve": {"axis": {"x": "independent"}},
           "layer": [
            {"data": {"name": "hist"}, "transform": [{"filter": "datum.h == 'h5' && datum.s == 'c'"}], "mark": {"type": "area", "color": "#9b9b9b"},
             "encoding": {"x": {"field": "x", "type": "quantitative", "scale": {"domain": [-0.1, 4.05], "nice": false, "zero": false},
               "axis": {"orient": "bottom", "title": "MHCII", "values": [0,1,2,3,4], "tickCount": 10, "labelExpr": "'10' + ['⁰','¹','²','³','⁴'][round(datum.value)]", "labelFontSize": 7, "labelColor": "#333", "labelPadding": 1, "labelFlush": false, "tickSize": 4, "tickWidth": 0.8, "domainWidth": 1.2, "titleFontSize": 13, "titleFontWeight": "bold", "titlePadding": 12}},
              "y": {"field": "c", "type": "quantitative", "scale": {"domain": [0, 100], "nice": false},
               "axis": {"title": "Count", "values": [0], "labelFontSize": 6, "labelColor": "#333", "labelPadding": 1, "tickSize": 3, "tickWidth": 0.8, "domain": false, "titleFontSize": 15, "titleFontWeight": "normal", "titleColor": "#222", "titlePadding": 2}}}},
            {"data": {"name": "hist"}, "transform": [{"filter": "datum.h == 'h5' && datum.s == 's'"}], "mark": {"type": "line", "color": "black", "strokeWidth": 1.1},
             "encoding": {"x": {"field": "x", "type": "quantitative", "scale": {"domain": [-0.1, 4.05], "nice": false, "zero": false},
               "axis": {"orient": "bottom", "title": null, "values": [0.301,0.477,0.602,0.699,0.778,0.845,0.903,0.954,1.301,1.477,1.602,1.699,1.778,1.845,1.903,1.954,2.301,2.477,2.602,2.699,2.778,2.845,2.903,2.954,3.301,3.477,3.602,3.699,3.778,3.845,3.903,3.954], "tickCount": 40, "labels": false, "domain": false, "tickSize": 2, "tickWidth": 0.8}},
              "y": {"field": "c", "type": "quantitative", "scale": {"domain": [0, 100], "nice": false}}}},
            {"data": {"name": "gates"}, "transform": [{"filter": "datum.h == 'h5'"}], "mark": {"type": "rule", "color": "#444", "strokeWidth": 1},
             "encoding": {"x": {"field": "x1", "type": "quantitative", "scale": {"domain": [-0.1, 4.05], "nice": false, "zero": false}, "axis": null}, "x2": {"field": "x2"}, "y": {"field": "c", "type": "quantitative", "scale": {"domain": [0, 100], "nice": false}}}},
            {"data": {"name": "gates"}, "transform": [{"filter": "datum.h == 'h5'"}], "mark": {"type": "tick", "orient": "vertical", "size": 7, "thickness": 1, "color": "#444", "opacity": 1},
             "encoding": {"x": {"field": "x1", "type": "quantitative", "scale": {"domain": [-0.1, 4.05], "nice": false, "zero": false}, "axis": null}, "y": {"field": "c", "type": "quantitative", "scale": {"domain": [0, 100], "nice": false}}}},
            {"data": {"name": "gates"}, "transform": [{"filter": "datum.h == 'h5'"}], "mark": {"type": "tick", "orient": "vertical", "size": 7, "thickness": 1, "color": "#444", "opacity": 1},
             "encoding": {"x": {"field": "x2", "type": "quantitative", "scale": {"domain": [-0.1, 4.05], "nice": false, "zero": false}, "axis": null}, "y": {"field": "c", "type": "quantitative", "scale": {"domain": [0, 100], "nice": false}}}}
           ]},
          {"width": 127, "height": 125, "view": {"stroke": "#999"},
           "resolve": {"axis": {"x": "independent"}},
           "layer": [
            {"data": {"name": "hist"}, "transform": [{"filter": "datum.h == 'h6' && datum.s == 'c'"}], "mark": {"type": "area", "color": "#9b9b9b"},
             "encoding": {"x": {"field": "x", "type": "quantitative", "scale": {"domain": [-0.1, 4.05], "nice": false, "zero": false},
               "axis": {"orient": "bottom", "title": "MHCII", "values": [0,1,2,3,4], "tickCount": 10, "labelExpr": "'10' + ['⁰','¹','²','³','⁴'][round(datum.value)]", "labelFontSize": 7, "labelColor": "#333", "labelPadding": 1, "labelFlush": false, "tickSize": 4, "tickWidth": 0.8, "domainWidth": 1.2, "titleFontSize": 13, "titleFontWeight": "bold", "titlePadding": 12}},
              "y": {"field": "c", "type": "quantitative", "scale": {"domain": [0, 100], "nice": false},
               "axis": {"title": "Count", "values": [0], "labelFontSize": 6, "labelColor": "#333", "labelPadding": 1, "tickSize": 3, "tickWidth": 0.8, "domain": false, "titleFontSize": 15, "titleFontWeight": "normal", "titleColor": "#222", "titlePadding": 2}}}},
            {"data": {"name": "hist"}, "transform": [{"filter": "datum.h == 'h6' && datum.s == 's'"}], "mark": {"type": "line", "color": "black", "strokeWidth": 1.1},
             "encoding": {"x": {"field": "x", "type": "quantitative", "scale": {"domain": [-0.1, 4.05], "nice": false, "zero": false},
               "axis": {"orient": "bottom", "title": null, "values": [0.301,0.477,0.602,0.699,0.778,0.845,0.903,0.954,1.301,1.477,1.602,1.699,1.778,1.845,1.903,1.954,2.301,2.477,2.602,2.699,2.778,2.845,2.903,2.954,3.301,3.477,3.602,3.699,3.778,3.845,3.903,3.954], "tickCount": 40, "labels": false, "domain": false, "tickSize": 2, "tickWidth": 0.8}},
              "y": {"field": "c", "type": "quantitative", "scale": {"domain": [0, 100], "nice": false}}}},
            {"data": {"name": "gates"}, "transform": [{"filter": "datum.h == 'h6'"}], "mark": {"type": "rule", "color": "#444", "strokeWidth": 1},
             "encoding": {"x": {"field": "x1", "type": "quantitative", "scale": {"domain": [-0.1, 4.05], "nice": false, "zero": false}, "axis": null}, "x2": {"field": "x2"}, "y": {"field": "c", "type": "quantitative", "scale": {"domain": [0, 100], "nice": false}}}},
            {"data": {"name": "gates"}, "transform": [{"filter": "datum.h == 'h6'"}], "mark": {"type": "tick", "orient": "vertical", "size": 7, "thickness": 1, "color": "#444", "opacity": 1},
             "encoding": {"x": {"field": "x1", "type": "quantitative", "scale": {"domain": [-0.1, 4.05], "nice": false, "zero": false}, "axis": null}, "y": {"field": "c", "type": "quantitative", "scale": {"domain": [0, 100], "nice": false}}}},
            {"data": {"name": "gates"}, "transform": [{"filter": "datum.h == 'h6'"}], "mark": {"type": "tick", "orient": "vertical", "size": 7, "thickness": 1, "color": "#444", "opacity": 1},
             "encoding": {"x": {"field": "x2", "type": "quantitative", "scale": {"domain": [-0.1, 4.05], "nice": false, "zero": false}, "axis": null}, "y": {"field": "c", "type": "quantitative", "scale": {"domain": [0, 100], "nice": false}}}}
           ]}
        ]
      }
    ]
  },
  {
    "bounds": "flush",
    "spacing": 164,
    "resolve": {"scale": {"shape": "independent", "fill": "independent"}},
    "vconcat": [
      {"width": 218, "height": 146,
       "title": {"text": "B.", "subtitle": "\u200b\u00a0\u00a0\u00a0\u00a0\u00a0CD11c⁺ cells", "anchor": "start", "fontSize": 15, "fontWeight": "bold", "subtitleFontSize": 13, "subtitlePadding": -13, "offset": 5, "dx": -6},
       "layer": [
        {"data": {"name": "B"}, "mark": {"type": "tick", "orient": "horizontal", "size": 37, "thickness": 1.8, "color": "black", "opacity": 1},
         "encoding": {"x": {"field": "g", "type": "quantitative", "scale": {"domain": [0.51, 4.53], "nice": false, "zero": false},
            "axis": {"title": null, "values": [1,2,3,4], "tickCount": 10, "labelExpr": "['','Apoe⁻ᐟ⁻','Apoe⁻ᐟ⁻Tap1⁻ᐟ⁻','Apoe⁻ᐟ⁻','Apoe⁻ᐟ⁻Tap1⁻ᐟ⁻'][datum.value]", "labelAngle": -45, "labelFontSize": 11, "labelFontWeight": "bold", "labelPadding": 2, "labelOverlap": false, "labelFlush": false, "tickSize": 5, "tickWidth": 1.5, "domainWidth": 1.5}},
           "y": {"aggregate": "mean", "field": "y", "type": "quantitative", "scale": {"domain": [0, 25], "nice": false},
            "axis": {"title": "% of mononuclear cells", "values": [0,5,10,15,20,25], "tickCount": 10, "labelOverlap": false, "labelFontSize": 11, "labelFontWeight": "bold", "labelPadding": 1, "tickSize": 4, "tickWidth": 1.5, "domainWidth": 1.5, "titleFontSize": 11.5, "titleFontWeight": "bold", "titlePadding": 10}}}},
        {"data": {"name": "B"}, "mark": {"type": "point", "size": 22, "strokeWidth": 1.2, "opacity": 1},
         "encoding": {"x": {"field": "pos", "type": "quantitative", "scale": {"domain": [0.51, 4.53], "nice": false, "zero": false}},
           "y": {"field": "y", "type": "quantitative", "scale": {"domain": [0, 25], "nice": false}},
           "shape": {"field": "g", "type": "nominal", "scale": {"domain": [1,2,3,4], "range": ["circle","square","triangle-up","triangle-down"]}, "legend": null},
           "fill": {"value": "black"}, "stroke": {"value": "black"}}},
        {"data": {"name": "sigB"}, "mark": {"type": "rule", "strokeWidth": 2.5, "color": "black"},
         "encoding": {"x": {"field": "x1", "type": "quantitative", "scale": {"domain": [0.51, 4.53], "nice": false, "zero": false}}, "x2": {"field": "x2"},
           "y": {"field": "y", "type": "quantitative", "scale": {"domain": [0, 25], "nice": false}}}},
        {"data": {"name": "txtB"}, "mark": {"type": "text", "fontSize": 14, "baseline": "middle", "dy": 3},
         "encoding": {"x": {"field": "xm", "type": "quantitative", "scale": {"domain": [0.51, 4.53], "nice": false, "zero": false}},
           "y": {"field": "y", "type": "quantitative", "scale": {"domain": [0, 25], "nice": false}}, "text": {"field": "t"}}},
        {"data": {"name": "grpB"}, "mark": {"type": "rule", "strokeWidth": 2.5, "color": "black", "yOffset": 73},
         "encoding": {"x": {"field": "x1", "type": "quantitative", "scale": {"domain": [0.51, 4.53], "nice": false, "zero": false}}, "x2": {"field": "x2"},
           "y": {"datum": 0, "type": "quantitative", "scale": {"domain": [0, 25], "nice": false}}}},
        {"data": {"name": "grpB"}, "mark": {"type": "text", "fontSize": 12, "fontWeight": "bold", "baseline": "middle", "yOffset": 89},
         "encoding": {"x": {"field": "xm", "type": "quantitative", "scale": {"domain": [0.51, 4.53], "nice": false, "zero": false}},
           "y": {"datum": 0, "type": "quantitative", "scale": {"domain": [0, 25], "nice": false}}, "text": {"field": "t"}}}
       ]},
      {"width": 219, "height": 146,
       "title": {"text": "C.", "subtitle": "\u200b\u00a0\u00a0\u00a0\u00a0\u00a0\u00a0\u00a0\u00a0Spleen", "anchor": "start", "fontSize": 15, "fontWeight": "bold", "subtitleFontSize": 13, "subtitlePadding": -13, "offset": 7, "dx": -6},
       "layer": [
        {"data": {"name": "C"}, "mark": {"type": "tick", "orient": "horizontal", "size": 25, "thickness": 1.8, "color": "black", "opacity": 1},
         "encoding": {"x": {"field": "g", "type": "quantitative", "scale": {"domain": [0.43, 6.5], "nice": false, "zero": false},
            "axis": {"title": null, "values": [1,2,3,4,5,6], "tickCount": 10, "labelExpr": "['','Apoe-/-','Apoe⁻ᐟ⁻Tap1⁻ᐟ⁻','Apoe⁻ᐟ⁻','Apoe⁻ᐟ⁻Tap1⁻ᐟ⁻','Apoe⁻ᐟ⁻','Apoe⁻ᐟ⁻Tap1⁻ᐟ⁻'][datum.value]", "labelAngle": -45, "labelFontSize": 11, "labelFontWeight": "bold", "labelPadding": 2, "labelOverlap": false, "labelFlush": false, "tickSize": 5, "tickWidth": 1.5, "domainWidth": 1.5}},
           "y": {"aggregate": "mean", "field": "y", "type": "quantitative", "scale": {"domain": [0, 80], "nice": false},
            "axis": {"title": "% of CD11c⁺ cells", "values": [0,20,40,60,80], "tickCount": 10, "labelOverlap": false, "labelFontSize": 11, "labelFontWeight": "bold", "labelPadding": 1, "tickSize": 4, "tickWidth": 1.5, "domainWidth": 1.5, "titleFontSize": 11.5, "titleFontWeight": "bold", "titlePadding": 10}}}},
        {"data": {"name": "C"}, "mark": {"type": "point", "size": 26, "strokeWidth": 1.4, "opacity": 1},
         "encoding": {"x": {"field": "pos", "type": "quantitative", "scale": {"domain": [0.43, 6.5], "nice": false, "zero": false}},
           "y": {"field": "y", "type": "quantitative", "scale": {"domain": [0, 80], "nice": false}},
           "shape": {"field": "g", "type": "nominal", "scale": {"domain": [1,2,3,4,5,6], "range": ["triangle-up","triangle-down","diamond","circle","square","triangle-up"]}, "legend": null},
           "fill": {"field": "g", "type": "nominal", "scale": {"domain": [1,2,3,4,5,6], "range": ["black","black","black","white","white","white"]}, "legend": null},
           "stroke": {"value": "black"}}},
        {"data": {"name": "sigC"}, "mark": {"type": "rule", "strokeWidth": 2.5, "color": "black"},
         "encoding": {"x": {"field": "x1", "type": "quantitative", "scale": {"domain": [0.43, 6.5], "nice": false, "zero": false}}, "x2": {"field": "x2"},
           "y": {"field": "y", "type": "quantitative", "scale": {"domain": [0, 80], "nice": false}}}},
        {"data": {"name": "txtC"}, "mark": {"type": "text", "fontSize": 14, "baseline": "middle", "dy": 3},
         "encoding": {"x": {"field": "xm", "type": "quantitative", "scale": {"domain": [0.43, 6.5], "nice": false, "zero": false}},
           "y": {"field": "y", "type": "quantitative", "scale": {"domain": [0, 80], "nice": false}}, "text": {"field": "t"}}},
        {"data": {"name": "pC"}, "mark": {"type": "text", "fontSize": 11.5, "baseline": "middle", "color": "#222"},
         "encoding": {"x": {"field": "xm", "type": "quantitative", "scale": {"domain": [0.43, 6.5], "nice": false, "zero": false}},
           "y": {"field": "y", "type": "quantitative", "scale": {"domain": [0, 80], "nice": false}}, "text": {"field": "t"}}},
        {"data": {"name": "grpC"}, "mark": {"type": "rule", "strokeWidth": 2.5, "color": "black", "yOffset": 74},
         "encoding": {"x": {"field": "x1", "type": "quantitative", "scale": {"domain": [0.43, 6.5], "nice": false, "zero": false}}, "x2": {"field": "x2"},
           "y": {"datum": 0, "type": "quantitative", "scale": {"domain": [0, 80], "nice": false}}}},
        {"data": {"name": "grpC"}, "mark": {"type": "text", "fontSize": 12, "fontWeight": "bold", "baseline": "middle", "yOffset": 89},
         "encoding": {"x": {"field": "xm", "type": "quantitative", "scale": {"domain": [0.43, 6.5], "nice": false, "zero": false}},
           "y": {"datum": 0, "type": "quantitative", "scale": {"domain": [0, 80], "nice": false}}, "text": {"field": "t"}}}
       ]},
      {"width": 227, "height": 145,
       "title": {"text": "D.", "subtitle": "\u200b\u00a0\u00a0\u00a0\u00a0\u00a0\u00a0\u00a0\u00a0\u00a0MeLN", "anchor": "start", "fontSize": 15, "fontWeight": "bold", "subtitleFontSize": 13, "subtitlePadding": -13, "offset": 8},
       "layer": [
        {"data": {"name": "D"}, "mark": {"type": "tick", "orient": "horizontal", "size": 25, "thickness": 1.8, "color": "black", "opacity": 1},
         "encoding": {"x": {"field": "g", "type": "quantitative", "scale": {"domain": [0.28, 6.57], "nice": false, "zero": false},
            "axis": {"title": null, "values": [1,2,3,4,5,6], "tickCount": 10, "labelExpr": "['','Apoe⁻ᐟ⁻','Apoe⁻ᐟ⁻Tap1⁻ᐟ⁻','Apoe⁻ᐟ⁻','Apoe⁻ᐟ⁻Tap1⁻ᐟ⁻','Apoe⁻ᐟ⁻','Apoe⁻ᐟ⁻Tap1⁻ᐟ⁻'][datum.value]", "labelAngle": -45, "labelFontSize": 11, "labelFontWeight": "bold", "labelPadding": 2, "labelOverlap": false, "labelFlush": false, "tickSize": 5, "tickWidth": 1.5, "domainWidth": 1.5}},
           "y": {"aggregate": "mean", "field": "y", "type": "quantitative", "scale": {"domain": [0, 100], "nice": false},
            "axis": {"title": "% of CD11c⁺ cells", "values": [0,20,40,60,80,100], "tickCount": 10, "labelOverlap": false, "labelFontSize": 11, "labelFontWeight": "bold", "labelPadding": 1, "tickSize": 4, "tickWidth": 1.5, "domainWidth": 1.5, "titleFontSize": 11.5, "titleFontWeight": "bold", "titlePadding": 10}}}},
        {"data": {"name": "D"}, "mark": {"type": "point", "size": 26, "strokeWidth": 1.4, "opacity": 1},
         "encoding": {"x": {"field": "pos", "type": "quantitative", "scale": {"domain": [0.28, 6.57], "nice": false, "zero": false}},
           "y": {"field": "y", "type": "quantitative", "scale": {"domain": [0, 100], "nice": false}},
           "shape": {"field": "g", "type": "nominal", "scale": {"domain": [1,2,3,4,5,6], "range": ["circle","square","triangle-up","triangle-down","diamond","circle"]}, "legend": null},
           "fill": {"field": "g", "type": "nominal", "scale": {"domain": [1,2,3,4,5,6], "range": ["black","black","black","black","black","white"]}, "legend": null},
           "stroke": {"value": "black"}}},
        {"data": {"name": "sigD"}, "mark": {"type": "rule", "strokeWidth": 2.5, "color": "black"},
         "encoding": {"x": {"field": "x1", "type": "quantitative", "scale": {"domain": [0.28, 6.57], "nice": false, "zero": false}}, "x2": {"field": "x2"},
           "y": {"field": "y", "type": "quantitative", "scale": {"domain": [0, 100], "nice": false}}}},
        {"data": {"name": "txtD"}, "mark": {"type": "text", "fontSize": 14, "baseline": "middle", "dy": 3},
         "encoding": {"x": {"field": "xm", "type": "quantitative", "scale": {"domain": [0.28, 6.57], "nice": false, "zero": false}},
           "y": {"field": "y", "type": "quantitative", "scale": {"domain": [0, 100], "nice": false}}, "text": {"field": "t"}}},
        {"data": {"name": "pD"}, "mark": {"type": "text", "fontSize": 11.5, "baseline": "middle", "color": "#222"},
         "encoding": {"x": {"field": "xm", "type": "quantitative", "scale": {"domain": [0.28, 6.57], "nice": false, "zero": false}},
           "y": {"field": "y", "type": "quantitative", "scale": {"domain": [0, 100], "nice": false}}, "text": {"field": "t"}}},
        {"data": {"name": "grpD"}, "mark": {"type": "rule", "strokeWidth": 2.5, "color": "black", "yOffset": 73},
         "encoding": {"x": {"field": "x1", "type": "quantitative", "scale": {"domain": [0.28, 6.57], "nice": false, "zero": false}}, "x2": {"field": "x2"},
           "y": {"datum": 0, "type": "quantitative", "scale": {"domain": [0, 100], "nice": false}}}},
        {"data": {"name": "grpD"}, "mark": {"type": "text", "fontSize": 12, "fontWeight": "bold", "baseline": "middle", "yOffset": 89},
         "encoding": {"x": {"field": "xm", "type": "quantitative", "scale": {"domain": [0.28, 6.57], "nice": false, "zero": false}},
           "y": {"datum": 0, "type": "quantitative", "scale": {"domain": [0, 100], "nice": false}}, "text": {"field": "t"}}}
       ]}
    ]
  }
]
}
